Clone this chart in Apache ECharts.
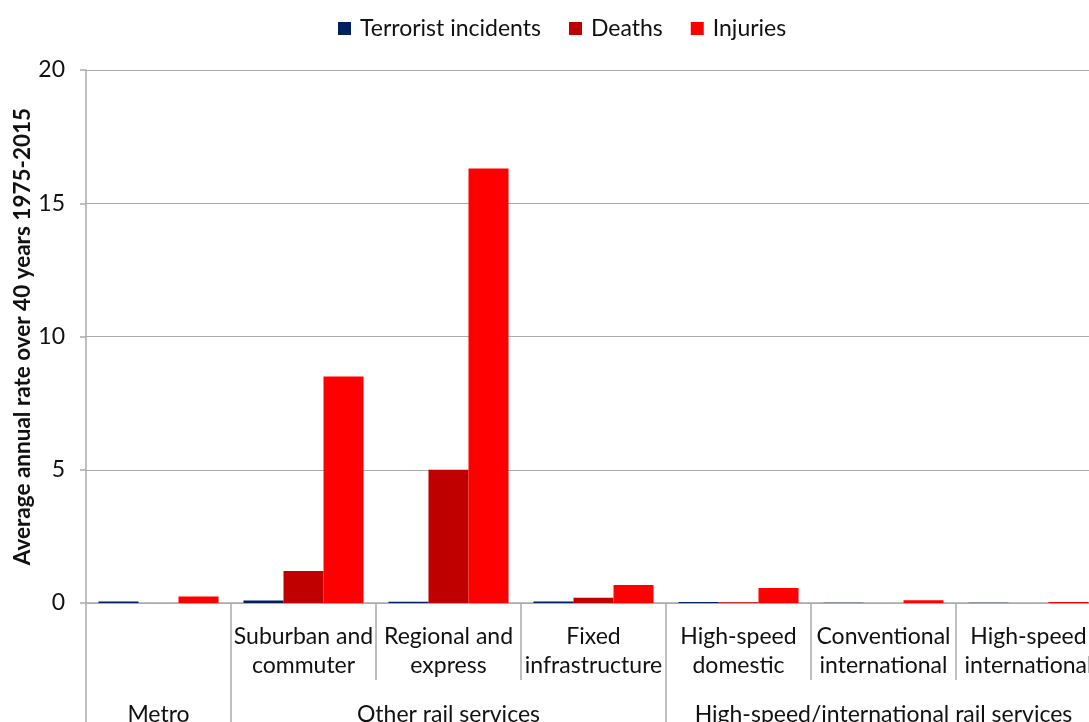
<!DOCTYPE html>
<html>
<head>
<meta charset="utf-8">
<script src="https://cdn.jsdelivr.net/npm/echarts@6/dist/echarts.min.js"></script>
<style>
  html, body { margin: 0; padding: 0; background: #fff; overflow: hidden; }
  #chart { width: 1089px; height: 722px; }
</style>
</head>
<body>
<div id="chart"></div>
<script>
// Rail service types (inner level) and the service group each belongs to (outer level)
const categories = [
  '',
  'Suburban and\ncommuter',
  'Regional and\nexpress',
  'Fixed\ninfrastructure',
  'High-speed\ndomestic',
  'Conventional\ninternational',
  'High-speed\ninternational'
];
const groupLabels = ['Metro', '', 'Other rail services', '', '', 'High-speed/international rail services', ''];
const groupStarts = [0, 1, 4];

// Average annual rate over 40 years, 1975-2015
const incidents = [0.06, 0.09, 0.05, 0.06, 0.04, 0.01, 0.01];
const deaths    = [0.0, 1.2, 5.0, 0.2, 0.03, 0.0, 0.0];
const injuries  = [0.24, 8.5, 16.3, 0.68, 0.56, 0.1, 0.04];

const yTicks = [0, 5, 10, 15, 20];

const FONT = 'Lato, "Open Sans", sans-serif';
const GRAY = '#ababab';
const FS = 23;

const chart = echarts.init(document.getElementById('chart'));

const barStyle = { barWidth: '27.6%', barGap: '0%', barCategoryGap: '17%' };

chart.setOption({
  animation: false,
  textStyle: { fontFamily: FONT },
  legend: {
    top: 12,
    left: 333,
    icon: 'rect',
    itemWidth: 13,
    itemHeight: 13,
    itemGap: 28,
    textStyle: { fontSize: FS, color: '#111', fontFamily: FONT, padding: [0, 0, 0, 4] },
    data: ['Terrorist incidents', 'Deaths', 'Injuries']
  },
  // the plot runs slightly past the right edge of the canvas
  grid: { left: 86, width: 1015, top: 70, bottom: 119, containLabel: false, outerBoundsMode: 'none' },
  xAxis: [
    {
      type: 'category',
      data: categories,
      position: 'bottom',
      axisLine: { show: true, lineStyle: { color: GRAY, width: 1.5 } },
      axisTick: { show: true, length: 77, lineStyle: { color: GRAY, width: 1.5 } },
      axisLabel: { fontSize: FS, color: '#111', lineHeight: 29, margin: 19, interval: 0, fontFamily: FONT }
    },
    {
      type: 'category',
      data: groupLabels,
      position: 'bottom',
      offset: 77,
      axisLine: { show: false },
      axisTick: {
        show: true,
        length: 60,
        interval: function (index) { return groupStarts.indexOf(index) >= 0; },
        lineStyle: { color: GRAY, width: 1.5 }
      },
      axisLabel: { fontSize: FS, color: '#111', margin: 23, interval: 0, fontFamily: FONT }
    }
  ],
  yAxis: {
    type: 'value',
    min: yTicks[0],
    max: yTicks[yTicks.length - 1],
    interval: 5,
    name: 'Average annual rate over 40 years 1975-2015',
    nameLocation: 'middle',
    nameGap: 52,
    nameMoveOverlap: false,
    nameTextStyle: { fontSize: 22.5, fontWeight: 'bold', color: '#111', fontFamily: FONT },
    axisLine: { show: true, lineStyle: { color: GRAY, width: 1.5 } },
    axisTick: { show: true, length: 6, lineStyle: { color: GRAY, width: 1.5 } },
    axisLabel: { fontSize: FS, color: '#111', margin: 21, fontFamily: FONT },
    splitLine: { show: true, lineStyle: { color: GRAY, width: 1 } }
  },
  series: [
    Object.assign({ name: 'Terrorist incidents', type: 'bar', data: incidents, itemStyle: { color: '#002060' } }, barStyle),
    Object.assign({ name: 'Deaths', type: 'bar', data: deaths, itemStyle: { color: '#c00000' } }, barStyle),
    Object.assign({ name: 'Injuries', type: 'bar', data: injuries, itemStyle: { color: '#ff0000' } }, barStyle)
  ]
});
</script>
</body>
</html>
